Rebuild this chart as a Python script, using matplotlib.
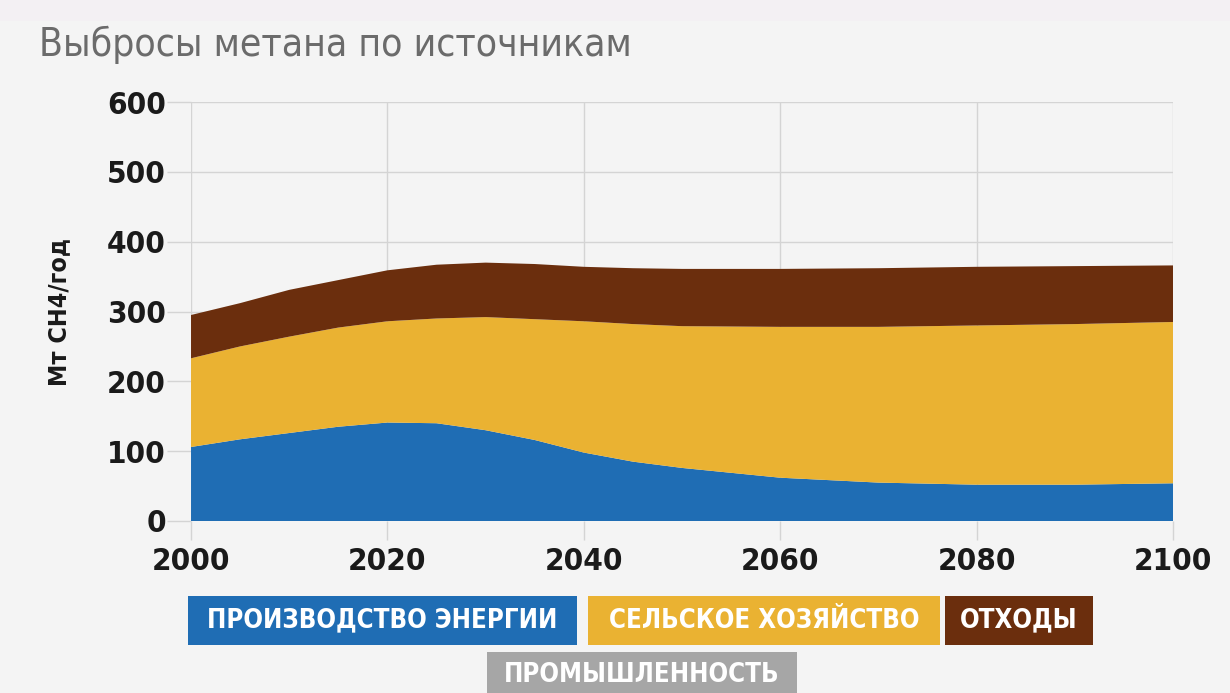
import matplotlib
matplotlib.use("Agg")
import matplotlib.pyplot as plt
from matplotlib.patches import Rectangle

# Выбросы метана по источникам, Мт CH4/год
years = [2000, 2005, 2010, 2015, 2020, 2025, 2030, 2035, 2040, 2045,
         2050, 2060, 2070, 2080, 2090, 2100]
energy = [106, 117, 126, 135, 141, 140, 130, 116, 98, 85, 76, 62, 55, 52, 52, 54]
agriculture = [127, 133, 138, 142, 145, 150, 162, 173, 188, 197, 203, 216, 223, 228, 230, 231]
waste = [62, 62, 67, 68, 73, 77, 78, 79, 78, 80, 82, 83, 84, 84, 83, 81]
industry = [0] * len(years)

labels = ['ПРОИЗВОДСТВО ЭНЕРГИИ', 'СЕЛЬСКОЕ ХОЗЯЙСТВО', 'ОТХОДЫ', 'ПРОМЫШЛЕННОСТЬ']
colors = ['#1f6db4', '#eab232', '#6b2e0d', '#a6a6a6']

xticks = [2000, 2020, 2040, 2060, 2080, 2100]
yticks = [0, 100, 200, 300, 400, 500, 600]

BG = '#f4f4f4'
FONT = dict(family='DejaVu Sans', stretch='condensed')

fig = plt.figure(figsize=(12.3, 6.93), dpi=100, facecolor=BG)
fig.patches.append(Rectangle((0, 0.97), 1, 0.03, transform=fig.transFigure,
                             facecolor='#f3f0f3', edgecolor='none', zorder=0))

ax = fig.add_axes([0.1553, 0.2482, 0.7984, 0.6046])
ax.set_facecolor(BG)

ax.stackplot(years, energy, agriculture, waste, industry,
             colors=colors, linewidth=0, zorder=2)

ax.set_xlim(2000, 2100)
ax.set_ylim(0, 600)
ax.set_xticks(xticks)
ax.set_yticks(yticks)
ax.grid(True, color='#d4d4d4', linewidth=1, zorder=0)
ax.set_axisbelow(True)
for s in ax.spines.values():
    s.set_visible(False)
ax.tick_params(axis='y', length=17, color='#d4d4d4', width=1, pad=1)
ax.tick_params(axis='x', length=14, color='#d4d4d4', width=1, pad=5)
for lab in ax.get_xticklabels() + ax.get_yticklabels():
    lab.set_family(FONT['family'])
    lab.set_stretch(FONT['stretch'])
    lab.set_fontweight('bold')
    lab.set_fontsize(22.5)
    lab.set_color('#1a1a1a')

ax.set_ylabel('Мт СН4/год', fontweight='bold', fontsize=18,
              color='#1a1a1a', **FONT)
ax.yaxis.set_label_coords(-0.122, 0.5)

fig.text(0.032, 0.935, 'Выбросы метана по источникам',
         fontsize=28, color='#6b6b6b', va='center', ha='left', **FONT)

# подписи серий в виде цветных плашек
boxes = [(188, 596, 389, 49), (588, 596, 352, 49), (945, 596, 148, 49), (487, 652, 310, 45)]
W, H = 1230, 693
for (x, y, w, h), lab, c in zip(boxes, labels, colors):
    fig.patches.append(Rectangle((x / W, 1 - (y + h) / H), w / W, h / H,
                                 transform=fig.transFigure, facecolor=c,
                                 edgecolor='none'))
    fig.text((x + w / 2) / W, 1 - (y + h / 2) / H, lab,
             fontweight='bold', fontsize=18.5, color='white',
             ha='center', va='center', **FONT)

fig.savefig('out.png', dpi=100, facecolor=BG)
